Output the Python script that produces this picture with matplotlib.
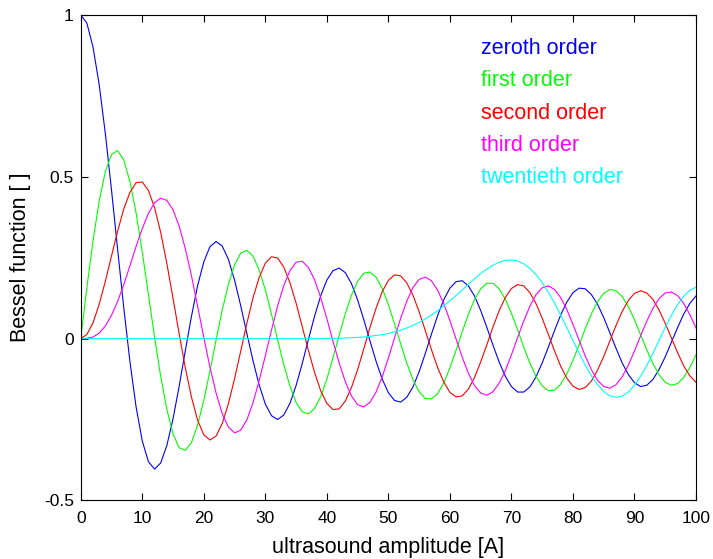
import matplotlib.pyplot as plt

# Bessel function values sampled at each integer ultrasound amplitude 0..100
amplitude = list(range(101))

zeroth = [1.000, 0.975, 0.901, 0.785, 0.634, 0.460, 0.276, 0.095, -0.071, -0.211,
          -0.316, -0.380, -0.403, -0.384, -0.330, -0.248, -0.147, -0.037, 0.069, 0.164,
          0.237, 0.284, 0.300, 0.286, 0.245, 0.181, 0.102, 0.016, -0.068, -0.143,
          -0.202, -0.238, -0.250, -0.236, -0.200, -0.145, -0.077, -0.003, 0.069, 0.132,
          0.181, 0.210, 0.218, 0.204, 0.170, 0.120, 0.059, -0.006, -0.070, -0.125,
          -0.167, -0.191, -0.196, -0.181, -0.149, -0.102, -0.046, 0.014, 0.071, 0.120,
          0.156, 0.176, 0.179, 0.163, 0.132, 0.087, 0.035, -0.020, -0.072, -0.116,
          -0.148, -0.165, -0.165, -0.149, -0.118, -0.075, -0.026, 0.025, 0.073, 0.113,
          0.142, 0.156, 0.154, 0.136, 0.106, 0.065, 0.018, -0.030, -0.075, -0.111,
          -0.136, -0.148, -0.144, -0.126, -0.095, -0.056, -0.011, 0.034, 0.076, 0.109,
          0.132]

first = [0.000, 0.157, 0.302, 0.425, 0.516, 0.569, 0.581, 0.552, 0.485, 0.388,
         0.268, 0.137, 0.005, -0.117, -0.219, -0.294, -0.337, -0.345, -0.321, -0.267,
         -0.191, -0.100, -0.004, 0.088, 0.168, 0.228, 0.264, 0.273, 0.255, 0.212,
         0.151, 0.076, -0.003, -0.080, -0.146, -0.197, -0.226, -0.233, -0.216, -0.179,
         -0.125, -0.059, 0.010, 0.077, 0.134, 0.177, 0.202, 0.206, 0.190, 0.155,
         0.105, 0.046, -0.016, -0.076, -0.127, -0.164, -0.185, -0.186, -0.170, -0.137,
         -0.090, -0.036, 0.021, 0.075, 0.121, 0.154, 0.171, 0.171, 0.154, 0.122,
         0.078, 0.027, -0.026, -0.076, -0.117, -0.146, -0.161, -0.159, -0.141, -0.109,
         -0.067, -0.019, 0.031, 0.077, 0.114, 0.140, 0.152, 0.148, 0.130, 0.099,
         0.058, 0.012, -0.035, -0.077, -0.112, -0.135, -0.144, -0.139, -0.120, -0.089,
         -0.050]

second = [0.000, 0.013, 0.049, 0.106, 0.177, 0.255, 0.332, 0.401, 0.452, 0.482,
          0.484, 0.458, 0.405, 0.328, 0.232, 0.125, 0.015, -0.090, -0.181, -0.252,
          -0.297, -0.313, -0.301, -0.262, -0.201, -0.124, -0.039, 0.047, 0.126, 0.189,
          0.233, 0.253, 0.249, 0.221, 0.173, 0.110, 0.037, -0.036, -0.104, -0.161,
          -0.200, -0.219, -0.217, -0.193, -0.151, -0.096, -0.032, 0.034, 0.094, 0.145,
          0.180, 0.197, 0.194, 0.172, 0.134, 0.083, 0.025, -0.034, -0.089, -0.134,
          -0.166, -0.180, -0.177, -0.156, -0.120, -0.072, -0.019, 0.036, 0.086, 0.127,
          0.155, 0.167, 0.163, 0.142, 0.108, 0.063, 0.013, -0.038, -0.085, -0.122,
          -0.147, -0.157, -0.151, -0.131, -0.097, -0.055, -0.007, 0.041, 0.084, 0.118,
          0.140, 0.148, 0.141, 0.121, 0.088, 0.047, 0.002, -0.043, -0.084, -0.115,
          -0.135]

third = [0.000, 0.001, 0.005, 0.017, 0.039, 0.072, 0.115, 0.167, 0.225, 0.285,
         0.340, 0.387, 0.420, 0.434, 0.427, 0.398, 0.348, 0.278, 0.194, 0.100,
         0.004, -0.088, -0.168, -0.232, -0.273, -0.291, -0.283, -0.251, -0.198, -0.130,
         -0.053, 0.026, 0.101, 0.164, 0.210, 0.236, 0.239, 0.220, 0.182, 0.127,
         0.062, -0.008, -0.075, -0.133, -0.177, -0.204, -0.211, -0.197, -0.165, -0.118,
         -0.060, 0.002, 0.063, 0.116, 0.158, 0.183, 0.190, 0.179, 0.150, 0.108,
         0.056, -0.001, -0.057, -0.107, -0.145, -0.168, -0.175, -0.164, -0.138, -0.099,
         -0.050, 0.003, 0.055, 0.100, 0.136, 0.157, 0.163, 0.152, 0.127, 0.090,
         0.044, -0.005, -0.054, -0.096, -0.129, -0.148, -0.153, -0.142, -0.118, -0.082,
         -0.038, 0.009, 0.054, 0.094, 0.124, 0.141, 0.144, 0.133, 0.109, 0.074,
         0.033]

twentieth = [0.000, 0.000, 0.000, 0.000, 0.000, 0.000, 0.000, 0.000, 0.000, 0.000,
             0.000, 0.000, 0.000, 0.000, 0.000, 0.000, 0.000, 0.000, 0.000, 0.000,
             0.000, 0.000, 0.000, 0.000, 0.000, 0.000, 0.000, 0.000, 0.000, 0.000,
             0.000, 0.000, 0.000, 0.000, 0.000, 0.000, 0.000, 0.000, 0.000, 0.000,
             0.001, 0.001, 0.001, 0.002, 0.003, 0.004, 0.005, 0.007, 0.010, 0.012,
             0.016, 0.021, 0.026, 0.033, 0.041, 0.050, 0.061, 0.073, 0.086, 0.101,
             0.117, 0.133, 0.150, 0.168, 0.185, 0.201, 0.215, 0.227, 0.236, 0.242,
             0.243, 0.240, 0.231, 0.217, 0.198, 0.173, 0.143, 0.110, 0.073, 0.034,
             -0.006, -0.045, -0.082, -0.115, -0.142, -0.163, -0.177, -0.181, -0.178, -0.165,
             -0.144, -0.116, -0.083, -0.045, -0.005, 0.035, 0.072, 0.105, 0.131, 0.149,
             0.159]

# full-intensity colours, one per order
orders = [
    (zeroth, '#0000ff', 'zeroth order'),
    (first, '#00ff00', 'first order'),
    (second, '#ff0000', 'second order'),
    (third, '#ff00ff', 'third order'),
    (twentieth, '#00ffff', 'twentieth order'),
]
# y positions of the coloured captions in the top right corner
caption_y = [0.88, 0.78, 0.68, 0.58, 0.48]

plt.rcParams['font.family'] = ['Liberation Sans', 'DejaVu Sans']

fig = plt.figure(figsize=(7.13, 5.59), dpi=100)
ax = fig.add_axes([0.1132, 0.1047, 0.8630, 0.8685])

for values, color, name in orders:
    ax.plot(amplitude, values, color=color, linewidth=0.8)

for (values, color, name), y in zip(orders, caption_y):
    ax.text(65, y, name, color=color, fontsize=15.5, va='baseline')

ax.set_xlim(0, 100)
ax.set_ylim(-0.5, 1)
ax.set_xticks(range(0, 101, 10))
ax.set_yticks([-0.5, 0, 0.5, 1])
ax.set_yticklabels(['-0.5', '0', '0.5', '1'])
ax.tick_params(direction='in', top=True, right=True, length=4.8, width=0.8,
               labelsize=12.5)
ax.tick_params(axis='x', pad=7.5)
ax.tick_params(axis='y', pad=5)
for spine in ax.spines.values():
    spine.set_linewidth(0.8)

ax.set_xlabel('ultrasound amplitude [A]', fontsize=15.5, labelpad=8)
ax.set_ylabel('Bessel function [ ]', fontsize=15.5, labelpad=9)

fig.savefig('out.png', dpi=100)
